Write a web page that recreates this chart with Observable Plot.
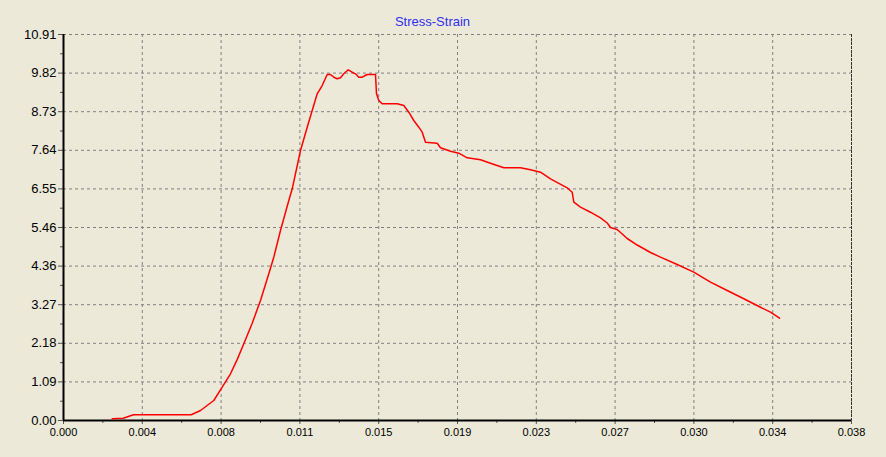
<!DOCTYPE html>
<html>
<head>
<meta charset="utf-8">
<script src="https://cdn.jsdelivr.net/npm/d3@7"></script>
<script src="https://cdn.jsdelivr.net/npm/@observablehq/plot@0.6"></script>
<style>
  html, body { margin: 0; padding: 0; background: #ECE9D8; }
  #chart svg { display: block; }
</style>
</head>
<body>
<div id="chart"></div>
<script>
const title = "Stress-Strain";

const strain = [
  0.002348, 0.002879, 0.003376, 0.006158, 0.006607, 0.007248, 0.007653, 0.008053,
  0.008374, 0.008695, 0.009100, 0.009500, 0.009900, 0.010141, 0.010464, 0.010865, 0.011029,
  0.011429, 0.011752, 0.011993, 0.012234, 0.012475, 0.012717, 0.012876, 0.013035,
  0.013199, 0.013358, 0.013517, 0.013729, 0.013922, 0.014081, 0.014240, 0.014404,
  0.014645, 0.015046, 0.015094, 0.015205, 0.015369, 0.016092, 0.016411, 0.016651,
  0.016893, 0.017134, 0.017298, 0.017457, 0.018021, 0.018180, 0.018662, 0.019063,
  0.019467, 0.020109, 0.020591, 0.021233, 0.022038, 0.022520, 0.023002, 0.023485,
  0.024290, 0.024531, 0.024608, 0.024931, 0.025413, 0.025896, 0.026219, 0.026378,
  0.026701, 0.027184, 0.027665, 0.028307, 0.028789, 0.029595, 0.030395, 0.031200,
  0.032005, 0.032806, 0.033611, 0.034093, 0.034528
];
const stress = [
  0.048, 0.065, 0.161, 0.161, 0.283, 0.565, 0.941, 1.320,
  1.720, 2.168, 2.750, 3.392, 4.146, 4.616, 5.370, 6.218, 6.549,
  7.631, 8.290, 8.762, 9.234, 9.468, 9.779, 9.779, 9.703,
  9.658, 9.686, 9.799, 9.912, 9.844, 9.799, 9.703, 9.703,
  9.779, 9.779, 9.234, 9.044, 8.951, 8.951, 8.903, 8.714,
  8.479, 8.290, 8.149, 7.866, 7.838, 7.708, 7.612, 7.555,
  7.425, 7.368, 7.272, 7.142, 7.142, 7.086, 7.018, 6.831,
  6.577, 6.453, 6.170, 6.029, 5.887, 5.729, 5.582, 5.455,
  5.398, 5.144, 4.960, 4.748, 4.616, 4.409, 4.192, 3.909,
  3.674, 3.440, 3.202, 3.061, 2.891
];

const xTicks = [0, 0.0038, 0.0076, 0.0114, 0.0152, 0.019, 0.0228, 0.0266, 0.0304, 0.0342, 0.038];
const xTickLabels = ["0.000", "0.004", "0.008", "0.011", "0.015", "0.019", "0.023", "0.027", "0.030", "0.034", "0.038"];
const yTicks = [0, 1.091, 2.182, 3.273, 4.364, 5.455, 6.546, 7.637, 8.728, 9.819, 10.91];
const yTickLabels = ["0.00", "1.09", "2.18", "3.27", "4.36", "5.46", "6.55", "7.64", "8.73", "9.82", "10.91"];

const data = strain.map((s, i) => ({strain: s, stress: stress[i]}));
const xMinor = xTicks.slice(1).map((t, i) => (t + xTicks[i]) / 2);
const yMinor = yTicks.slice(1).map((t, i) => (t + yTicks[i]) / 2);

const gridStyle = {stroke: "#808080", strokeOpacity: 1, strokeWidth: 1, strokeDasharray: "3,3"};

const chart = Plot.plot({
  width: 886,
  height: 457,
  marginLeft: 63,
  marginRight: 35,
  marginTop: 34,
  marginBottom: 37,
  style: {background: "#ECE9D8", fontFamily: "'Liberation Sans', Arial, sans-serif", color: "#000", overflow: "visible"},
  x: {domain: [0, 0.038], label: null},
  y: {domain: [0, 10.91], label: null},
  marks: [
    Plot.gridX(xTicks, gridStyle),
    Plot.gridY(yTicks, gridStyle),
    Plot.axisX(xMinor, {tickSize: 3, tickFormat: () => "", stroke: "#555", label: null}),
    Plot.axisY(yMinor, {tickSize: 3, tickFormat: () => "", stroke: "#555", label: null}),
    Plot.axisX(xTicks, {tickSize: 4, tickPadding: 4, fontSize: 11, stroke: "#555", label: null,
      tickFormat: d => xTickLabels[xTicks.indexOf(d)]}),
    Plot.axisY(yTicks, {tickSize: 5, tickPadding: 2, fontSize: 13, stroke: "#555", label: null,
      tickFormat: d => yTickLabels[yTicks.indexOf(d)]}),
    Plot.ruleX([0.038], {stroke: "#303030", strokeWidth: 1, strokeDasharray: "3,1"}),
    Plot.ruleX([0], {stroke: "black", strokeWidth: 2}),
    Plot.ruleY([0], {stroke: "black", strokeWidth: 2}),
    Plot.line(data, {x: "strain", y: "stress", stroke: "#ff0000", strokeWidth: 1.5}),
    Plot.text([title], {frameAnchor: "top", lineAnchor: "middle", dy: -13, dx: -25, fill: "#2f2ff0", fontSize: 13})
  ]
});
document.getElementById("chart").append(chart);
</script>
</body>
</html>
